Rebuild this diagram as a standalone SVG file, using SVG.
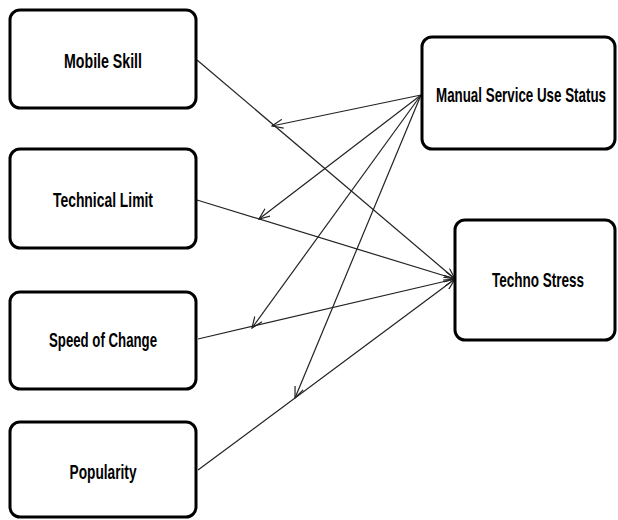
<svg xmlns="http://www.w3.org/2000/svg" width="618" height="520" viewBox="0 0 618 520">
<style>
.box{fill:#fff;stroke:#000;stroke-width:3}
.lbl{font-family:"Liberation Sans Narrow","Liberation Sans",Arial,sans-serif;font-weight:bold;font-size:21px;fill:#000;text-anchor:middle}
.con{stroke:#222;stroke-width:1.2;fill:none;marker-end:url(#arr)}
</style>
<defs>
<marker id="arr" viewBox="0 0 12 10" refX="11" refY="5" markerWidth="12" markerHeight="10" markerUnits="userSpaceOnUse" orient="auto">
<path d="M0,0.5 L11,5 L0,9.5" fill="none" stroke="#222" stroke-width="1.2"/>
</marker>
</defs>
<g id="connectors">
<line class="con" x1="197" y1="60" x2="455" y2="279"/>
<line class="con" x1="197" y1="200" x2="455" y2="279"/>
<line class="con" x1="198" y1="339" x2="455" y2="279"/>
<line class="con" x1="198" y1="470" x2="455" y2="279"/>
<line class="con" x1="421" y1="95" x2="272" y2="126"/>
<line class="con" x1="421" y1="95" x2="259" y2="219"/>
<line class="con" x1="421" y1="95" x2="252" y2="328"/>
<line class="con" x1="421" y1="95" x2="295" y2="398"/>
</g>
<g id="mobile-skill">
<rect class="box" x="10" y="10" width="186" height="98" rx="10"/>
<text class="lbl" x="103" y="68" textLength="78" lengthAdjust="spacingAndGlyphs">Mobile Skill</text>
</g>
<g id="technical-limit">
<rect class="box" x="10" y="149" width="186" height="99" rx="10"/>
<text class="lbl" x="103" y="207" textLength="100" lengthAdjust="spacingAndGlyphs">Technical Limit</text>
</g>
<g id="speed-of-change">
<rect class="box" x="10" y="292" width="186" height="97" rx="10"/>
<text class="lbl" x="103" y="347" textLength="108" lengthAdjust="spacingAndGlyphs">Speed of Change</text>
</g>
<g id="popularity">
<rect class="box" x="10" y="422" width="186" height="95" rx="10"/>
<text class="lbl" x="103" y="479" textLength="67" lengthAdjust="spacingAndGlyphs">Popularity</text>
</g>
<g id="manual-service">
<rect class="box" x="422" y="37" width="193" height="112" rx="10"/>
<text class="lbl" x="521" y="102" textLength="170" lengthAdjust="spacingAndGlyphs">Manual Service Use Status</text>
</g>
<g id="techno-stress">
<rect class="box" x="455" y="220" width="160" height="120" rx="10"/>
<text class="lbl" x="538" y="287" textLength="92" lengthAdjust="spacingAndGlyphs">Techno Stress</text>
</g>
</svg>
